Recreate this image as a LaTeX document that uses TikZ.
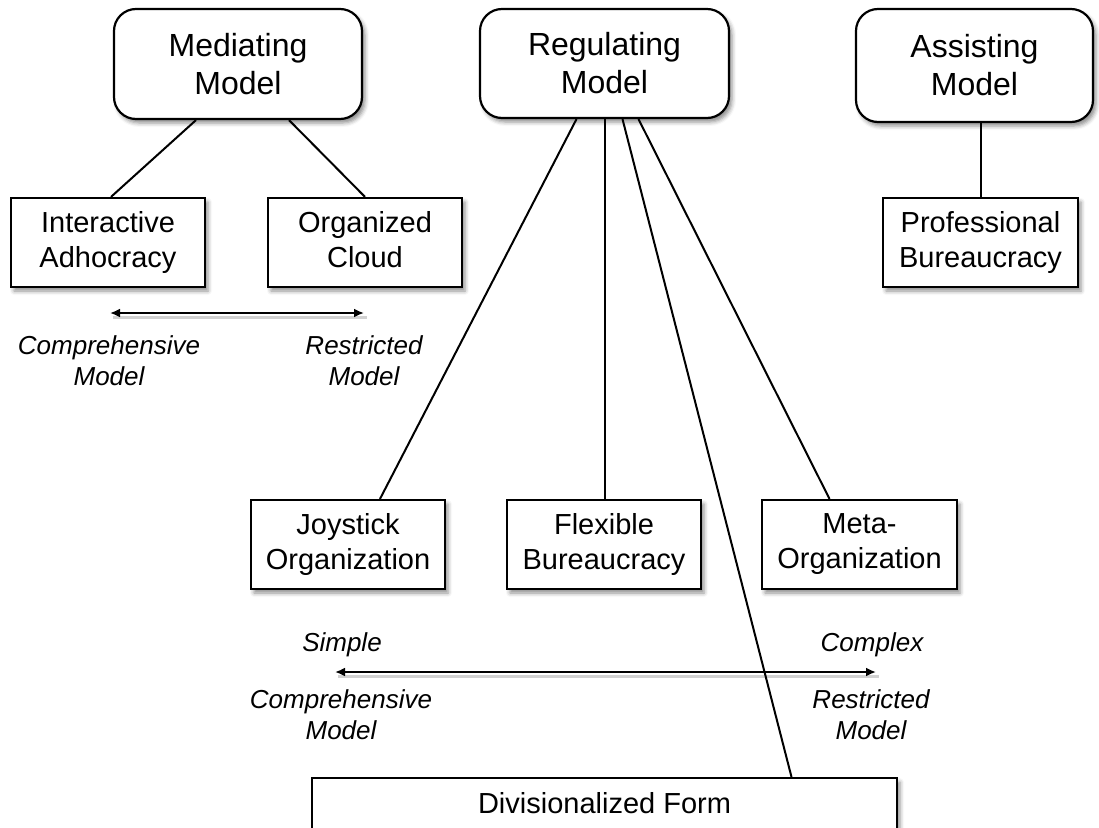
\documentclass[tikz,border=0pt]{standalone}
\usepackage{fontspec}
\setmainfont{Liberation Sans}
\usetikzlibrary{shadows.blur,arrows.meta}

\tikzset{
  x=1pt, y=1pt,
  softshadow/.style={blur shadow={shadow xshift=3pt, shadow yshift=-4pt,
      shadow blur radius=4pt, shadow opacity=45}},
  evenlines/.style={execute at begin node=\vphantom{A}, execute at end node=\vphantom{g}},
  modelbox/.style={draw, line width=2.2pt, rounded corners=22pt, fill=white,
      align=center, inner sep=0pt, softshadow,
      font=\fontsize{32}{38}\selectfont},
  formbox/.style={draw, line width=2.2pt, fill=white, align=center,
      inner sep=0pt, minimum width=194pt, minimum height=89pt, softshadow,
      font=\fontsize{29}{35}\selectfont},
  axislabel/.style={align=center, inner sep=0pt,
      font=\fontsize{26}{31}\selectfont\itshape},
  link/.style={line width=2pt},
  scale arrow/.style={line width=2.6pt, {Latex[length=10pt,width=9pt]}-{Latex[length=10pt,width=9pt]}},
  arrow shade/.style={line width=3pt, draw=black, opacity=0.18},
}

\begin{document}
\begin{tikzpicture}
\useasboundingbox (0,0) rectangle (1099,-827);

% top-level models
\node[modelbox, minimum width=248pt, minimum height=110pt] (med) at (238,-64) {Mediating\\Model};
\node[modelbox, minimum width=249pt, minimum height=109pt] (reg) at (604.5,-63.5) {Regulating\\Model};
\node[modelbox, minimum width=237pt, minimum height=113pt] (ass) at (974.5,-65.5) {Assisting\\Model};

% organizational forms
\node[formbox, evenlines] (ia) at (108,-242.5) {Interactive\\Adhocracy};
\node[formbox, evenlines] (oc) at (365,-242.5) {Organized\\Cloud};
\node[formbox, evenlines, minimum width=195pt] (pb) at (980.5,-242.5) {Professional\\Bureaucracy};
\node[formbox, evenlines] (jo) at (348,-544.5) {Joystick\\Organization};
\node[formbox, evenlines] (fb) at (604,-544.5) {Flexible\\Bureaucracy};
\node[formbox, evenlines, minimum width=195pt] (mo) at (859.5,-544.5) {Meta-\\Organization};
\node[formbox, anchor=north, minimum width=585pt, minimum height=0pt,
      inner ysep=0pt, text height=35pt, text depth=70pt] (df) at (604.5,-777) {Divisionalized Form};

% links between models and forms
\draw[link] ([xshift=-42pt]med.south) -- ([xshift=3pt]ia.north);
\draw[link] ([xshift=51pt]med.south) -- (oc.north);
\draw[link] ([xshift=-28pt]reg.south) -- ([xshift=32pt]jo.north);
\draw[link] (reg.south) -- (reg.south |- fb.north);
\draw[link] ([xshift=18pt]reg.south) -- ([xshift=187pt]df.north);
\draw[link] ([xshift=34pt]reg.south) -- ([xshift=-30pt]mo.north);
\draw[link] (ass.south -| pb.north) -- (pb.north);

% upper scale
\coordinate (ua) at (110,-313);
\coordinate (ub) at (364,-313);
\draw[arrow shade] ([xshift=3pt,yshift=-4pt]ua) -- ([xshift=3pt,yshift=-4pt]ub);
\draw[scale arrow] (ua) -- (ub);
\node[axislabel] (ucomp) at (109,-361) {Comprehensive\\Model};
\node[axislabel] (urest) at (364,-361) {Restricted\\Model};

% lower scale
\coordinate (la) at (335,-672);
\coordinate (lb) at (876,-672);
\draw[arrow shade] ([xshift=3pt,yshift=-4pt]la) -- ([xshift=3pt,yshift=-4pt]lb);
\draw[scale arrow] (la) -- (lb);
\node[axislabel] (lsimple) at (342,-645) {Simple};
\node[axislabel] (lcomplex) at (872,-645) {Complex};
\node[axislabel] (lcomp) at (341,-715) {Comprehensive\\Model};
\node[axislabel] (lrest) at (871,-715) {Restricted\\Model};
\end{tikzpicture}
\end{document}
